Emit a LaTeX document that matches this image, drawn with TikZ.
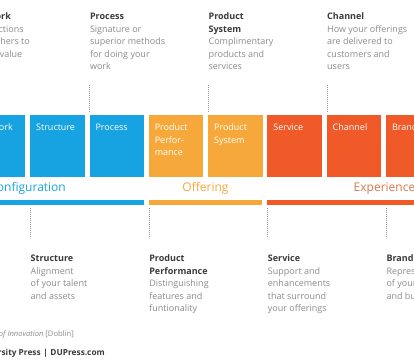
\documentclass[tikz,border=0pt]{standalone}
\usepackage{fontspec}
\setmainfont{Open Sans}
\definecolor{cblue}{HTML}{17A2E2}
\definecolor{corange}{HTML}{F6A83B}
\definecolor{cred}{HTML}{EF5A28}
\definecolor{cexp}{HTML}{D6784A}
\definecolor{ttl}{HTML}{3A3A3A}
\definecolor{dsc}{HTML}{8C8C8C}
\newcommand{\topstrut}{\rule{0pt}{7pt}}
\tikzset{
  boxnode/.style={anchor=north west, minimum width=54.5pt, minimum height=62pt, inner sep=0pt, draw=none},
  boxtext/.style={anchor=north west, inner sep=0pt, align=left, text=white, font=\fontsize{9}{12.5}\selectfont},
  desc/.style={anchor=north west, inner sep=0pt, align=left, text=dsc, font=\fontsize{9}{12.5}\selectfont},
  cat/.style={anchor=base, inner sep=0pt, font=\fontsize{12}{14}\selectfont},
  dotline/.style={draw=gray!80, line width=0.8pt, dash pattern=on 0.8pt off 1.2pt},
}
\newcommand{\ttlx}[1]{{\color{ttl}\bfseries #1}}
\begin{document}
\begin{tikzpicture}[x=1pt,y=-1pt]
\useasboundingbox (0,0) rectangle (414,363);
\fill[white] (0,0) rectangle (414,363);
\clip (0,0) rectangle (414,363);
% boxes
\node[boxnode, fill=cblue] (bnet) at (-29.3,115) {};
\node[boxnode, fill=cblue] (bstr) at (30,115) {};
\node[boxnode, fill=cblue] (bpro) at (89.3,115) {};
\node[boxnode, fill=corange] (bpp) at (148.6,115) {};
\node[boxnode, fill=corange] (bps) at (207.9,115) {};
\node[boxnode, fill=cred] (bser) at (267.2,115) {};
\node[boxnode, fill=cred] (bcha) at (326.5,115) {};
\node[boxnode, fill=cred] (bbra) at (385.8,115) {};
% box texts (first baseline at 130.5)
\node[boxtext] (tnet) at (-23.3,123.5) {\topstrut Network};
\node[boxtext] (tstr) at (36,123.5) {\topstrut Structure};
\node[boxtext] (tpro) at (95.3,123.5) {\topstrut Process};
\node[boxtext] (tpp) at (154.6,123.5) {\topstrut Product\\Perfor-\\mance};
\node[boxtext] (tps) at (213.9,123.5) {\topstrut Product\\System};
\node[boxtext] (tser) at (273.2,123.5) {\topstrut Service};
\node[boxtext] (tcha) at (332.5,123.5) {\topstrut Channel};
\node[boxtext] (tbra) at (391.8,123.5) {\topstrut Brand};
% bars
\coordinate (c1) at (-88.6,199.5);
\coordinate (c2) at (143.8,204.5);
\coordinate (o1) at (148.6,199.5);
\coordinate (o2) at (262.4,204.5);
\coordinate (e1) at (267.2,199.5);
\coordinate (e2) at (499.6,204.5);
\fill[cblue] (c1) rectangle (c2);
\fill[corange] (o1) rectangle (o2);
\fill[cred] (e1) rectangle (e2);
\node[cat, text=cblue] (lcfg) at (27.6,192) {Configuration};
\node[cat, text=corange] (loff) at (205.5,192) {Offering};
\node[cat, text=cexp] (lexp) at (384.5,192) {Experience};
% top descriptions (first baseline at 19.5)
\node[desc] (dnet) at (-28.8,12.5) {\topstrut\ttlx{Network}\\Connections\\with others to\\create value};
\node[desc] (dpro) at (89.8,12.5) {\topstrut\ttlx{Process}\\Signature or\\superior methods\\for doing your\\work};
\node[desc] (dps) at (208.4,12.5) {\topstrut\ttlx{Product}\\\ttlx{System}\\Complimentary\\products and\\services};
\node[desc] (dcha) at (327,12.5) {\topstrut\ttlx{Channel}\\How your offerings\\are delivered to\\customers and\\users};
% bottom descriptions (first baseline at 261.5)
\node[desc] (dstr) at (30.5,254.5) {\topstrut\ttlx{Structure}\\Alignment\\of your talent\\and assets};
\node[desc] (dpp) at (149.1,254.5) {\topstrut\ttlx{Product}\\\ttlx{Performance}\\Distinguishing\\features and\\funtionality};
\node[desc] (dser) at (267.7,254.5) {\topstrut\ttlx{Service}\\Support and\\enhancements\\that surround\\your offerings};
\node[desc] (dbra) at (386.3,254.5) {\topstrut\ttlx{Brand}\\Representation\\of your offerings\\and business};
% dotted connectors
\draw[dotline] ([xshift=0.5pt,yshift=3pt]bpro.north west) -- ([xshift=0.5pt,yshift=30pt]bpro.north west);
\draw[dotline] ([xshift=0.5pt,yshift=3pt]bps.north west) -- ([xshift=0.5pt,yshift=30pt]bps.north west);
\draw[dotline] ([xshift=0.5pt,yshift=3pt]bcha.north west) -- ([xshift=0.5pt,yshift=30pt]bcha.north west);
\draw[dotline] ([xshift=0.5pt,yshift=-31pt]bstr.south west) -- ([xshift=0.5pt,yshift=-61pt]bstr.south west);
\draw[dotline] ([xshift=0.5pt,yshift=-31pt]bpp.south west) -- ([xshift=0.5pt,yshift=-61pt]bpp.south west);
\draw[dotline] ([xshift=0.5pt,yshift=-31pt]bser.south west) -- ([xshift=0.5pt,yshift=-61pt]bser.south west);
\draw[dotline] ([xshift=0.5pt,yshift=-31pt]bbra.south west) -- ([xshift=0.5pt,yshift=-61pt]bbra.south west);
% footer
\node[anchor=base east, inner sep=0pt, text=dsc, font=\fontsize{7.6}{9}\selectfont] (src) at (74,336.5) {Source: \textit{Ten Types of Innovation} [Doblin]};
\node[anchor=base east, inner sep=0pt, text=ttl, font=\fontsize{8.3}{10}\selectfont\bfseries] (dup) at (105,355) {Deloitte University Press\hspace{2.6pt}|\hspace{2.6pt}DUPress.com};
\end{tikzpicture}
\end{document}
